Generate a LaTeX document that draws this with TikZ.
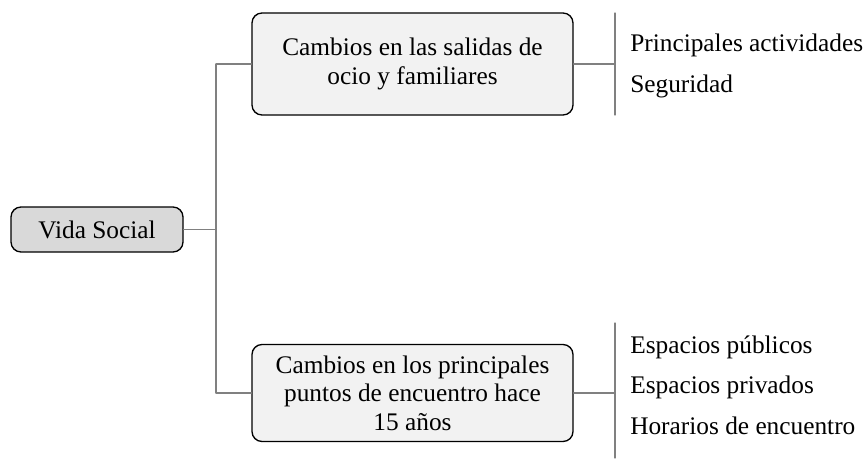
\documentclass[tikz,border=0pt]{standalone}
\usepackage{fontspec}
\setmainfont{Liberation Serif}
\begin{document}
\begin{tikzpicture}[x=.75pt,y=-.75pt,font=\fontsize{19}{21.5}\selectfont,line join=round,line cap=round,
	caja/.style={draw=black,line width=1pt,rounded corners=7.5pt,align=center,inner sep=0pt},
	rama/.style={draw=gray,line width=.9pt},
	hoja/.style={anchor=base west,inner sep=0pt}]
	\useasboundingbox (0,0) rectangle (866,460);
	\path 
	(97,229.5)node[caja,fill=black!15,minimum width=129pt,minimum height=33.75pt](vida){Vida Social}
	(412.5,64)node[caja,fill=black!5,minimum width=240.75pt,minimum height=76.5pt](salidas){Cambios en las salidas de\\ocio y familiares}
	(412.5,393)node[caja,fill=black!5,minimum width=240.75pt,minimum height=72.75pt](encuentro){Cambios en los principales\\puntos de encuentro hace\\15 años}
	(216,64)coordinate(T1) 
	(216,393)coordinate(T2) 
	(615,13)coordinate(B1) 
	(615,115)coordinate(B2) 
	(615,323)coordinate(B3) 
	(615,458)coordinate(B4) 
	;
	\foreach \n/\y/\t in {a/52/Principales actividades,b/93/Seguridad,c/353/Espacios públicos,d/393/Espacios privados,e/434/Horarios de encuentro}
	\node[hoja] (h\n) at (630,\y) {\t};
	\draw[rama] (T1)--(T2) (vida.east)--(vida.east-|T1) (T1)--(salidas.west) (T2)--(encuentro.west);
	\draw[rama] (B1)--(B2) (B3)--(B4) (salidas.east)--(salidas.east-|B1) (encuentro.east)--(encuentro.east-|B3);
\end{tikzpicture}
\end{document}
